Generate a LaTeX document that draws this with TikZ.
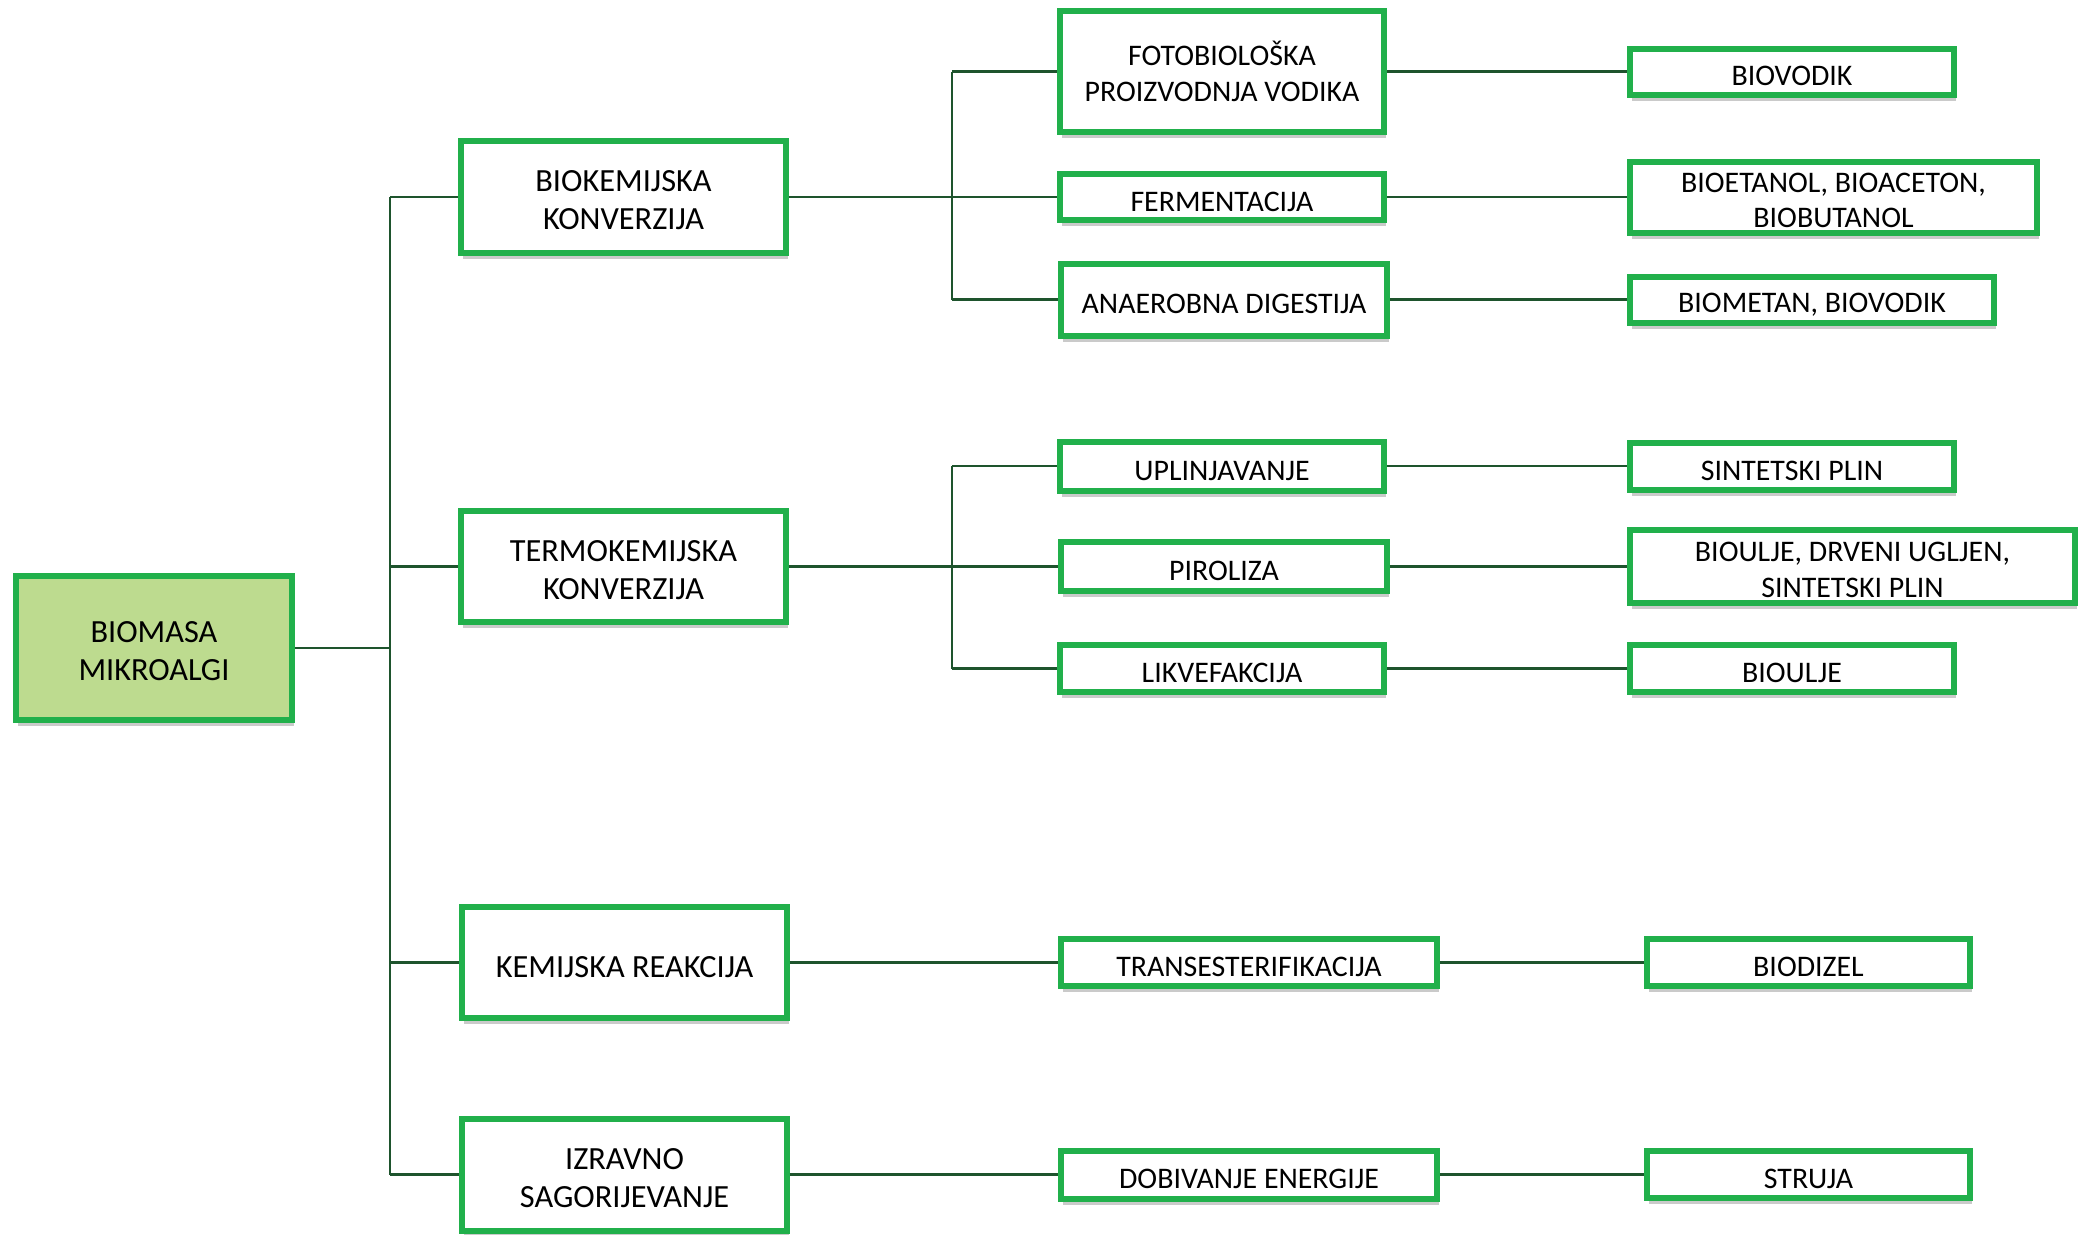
\documentclass[tikz,border=0pt]{standalone}
\usepackage{fontspec}
\setmainfont{Carlito}
\usetikzlibrary{shadows}
\definecolor{boxgreen}{RGB}{33,176,75}
\definecolor{rootfill}{RGB}{189,219,143}
\definecolor{linkgreen}{RGB}{30,84,45}
\tikzset{
	box/.style={draw=boxgreen,line width=1.7pt,fill=white,align=center,inner sep=0pt,
		font=\fontsize{8.5}{10.1}\selectfont,execute at begin node={\rule{0pt}{8.2pt}},
		drop shadow={shadow xshift=0.02cm,shadow yshift=-0.06cm,opacity=0.35,fill=black!60}},
	pair/.style={box,execute at begin node={\rule{0pt}{17.6pt}}},
	bigbox/.style={box,font=\fontsize{9.2}{10.9}\selectfont,execute at begin node={\rule{0pt}{8.8pt}}},
	bigpair/.style={bigbox,execute at begin node={\rule{0pt}{18.8pt}}},
	link/.style={draw=linkgreen,line width=0.6pt}
}
\begin{document}
\begin{tikzpicture}
		\useasboundingbox (0,0) rectangle (20.87,-12.34);
		
		\node[bigpair,fill=rootfill,minimum width=2.76cm,minimum height=1.44cm] (root) at (1.54,-6.48){BIOMASA\\MIKROALGI};
		
		\node[bigpair,minimum width=3.25cm,minimum height=1.12cm] (bio) at (6.235,-1.97){BIOKEMIJSKA\\KONVERZIJA};
		\node[bigpair,minimum width=3.25cm,minimum height=1.11cm] (termo) at (6.235,-5.665){TERMOKEMIJSKA\\KONVERZIJA};
		\node[bigbox,minimum width=3.25cm,minimum height=1.11cm] (kem) at (6.245,-9.625){KEMIJSKA REAKCIJA};
		\node[bigpair,minimum width=3.25cm,minimum height=1.12cm] (izr) at (6.245,-11.745){IZRAVNO\\SAGORIJEVANJE};
		
		\node[box,minimum width=3.24cm,minimum height=1.21cm] (foto) at (12.22,-0.715){FOTOBIOLOŠKA\\PROIZVODNJA VODIKA};
		\node[box,minimum width=3.24cm,minimum height=0.46cm] (ferm) at (12.22,-1.97){FERMENTACIJA};
		\node[box,minimum width=3.26cm,minimum height=0.72cm] (anaer) at (12.24,-2.995){ANAEROBNA DIGESTIJA};
		\node[box,minimum width=3.24cm,minimum height=0.49cm] (uplin) at (12.22,-4.66){UPLINJAVANJE};
		\node[box,minimum width=3.26cm,minimum height=0.49cm] (piro) at (12.24,-5.665){PIROLIZA};
		\node[box,minimum width=3.24cm,minimum height=0.47cm] (likv) at (12.22,-6.685){LIKVEFAKCIJA};
		\node[box,minimum width=3.76cm,minimum height=0.47cm] (trans) at (12.49,-9.625){TRANSESTERIFIKACIJA};
		\node[box,minimum width=3.76cm,minimum height=0.48cm] (dobiv) at (12.49,-11.745){DOBIVANJE ENERGIJE};
		
		\node[box,minimum width=3.24cm,minimum height=0.46cm] (vodik) at (17.92,-0.715){BIOVODIK};
		\node[pair,minimum width=4.07cm,minimum height=0.71cm] (etanol) at (18.335,-1.97){BIOETANOL, BIOACETON,\\BIOBUTANOL};
		\node[box,minimum width=3.64cm,minimum height=0.46cm] (metan) at (18.12,-2.995){BIOMETAN, BIOVODIK};
		\node[box,minimum width=3.24cm,minimum height=0.47cm] (sint) at (17.92,-4.66){SINTETSKI PLIN};
		\node[pair,minimum width=4.45cm,minimum height=0.73cm] (ugljen) at (18.525,-5.665){BIOULJE, DRVENI UGLJEN,\\SINTETSKI PLIN};
		\node[box,minimum width=3.24cm,minimum height=0.47cm] (ulje) at (17.92,-6.685){BIOULJE};
		\node[box,minimum width=3.23cm,minimum height=0.47cm] (dizel) at (18.085,-9.625){BIODIZEL};
		\node[box,minimum width=3.23cm,minimum height=0.47cm] (struja) at (18.085,-11.745){STRUJA};
		
		% trunk and buses
		\coordinate (trunk) at (3.90,0);
		\coordinate (bus) at (9.52,0);
		
		\draw[link] (root.east) -- (root.east -| trunk);
		\draw[link] (bio.west -| trunk) -- (izr.west -| trunk);
		\draw[link] (bio.west -| trunk) -- (bio.west);
		\draw[link] (termo.west -| trunk) -- (termo.west);
		\draw[link] (kem.west -| trunk) -- (kem.west);
		\draw[link] (izr.west -| trunk) -- (izr.west);
		
		\draw[link] (bio.east) -- (bio.east -| bus);
		\draw[link] (foto.west -| bus) -- (anaer.west -| bus);
		\draw[link] (foto.west -| bus) -- (foto.west);
		\draw[link] (ferm.west -| bus) -- (ferm.west);
		\draw[link] (anaer.west -| bus) -- (anaer.west);
		
		\draw[link] (termo.east) -- (termo.east -| bus);
		\draw[link] (uplin.west -| bus) -- (likv.west -| bus);
		\draw[link] (uplin.west -| bus) -- (uplin.west);
		\draw[link] (piro.west -| bus) -- (piro.west);
		\draw[link] (likv.west -| bus) -- (likv.west);
		
		\draw[link] (kem.east) -- (trans.west);
		\draw[link] (izr.east) -- (dobiv.west);
		
		\draw[link] (foto.east) -- (vodik.west);
		\draw[link] (ferm.east) -- (etanol.west);
		\draw[link] (anaer.east) -- (metan.west);
		\draw[link] (uplin.east) -- (sint.west);
		\draw[link] (piro.east) -- (ugljen.west);
		\draw[link] (likv.east) -- (ulje.west);
		\draw[link] (trans.east) -- (dizel.west);
		\draw[link] (dobiv.east) -- (struja.west);
	\end{tikzpicture}
\end{document}
